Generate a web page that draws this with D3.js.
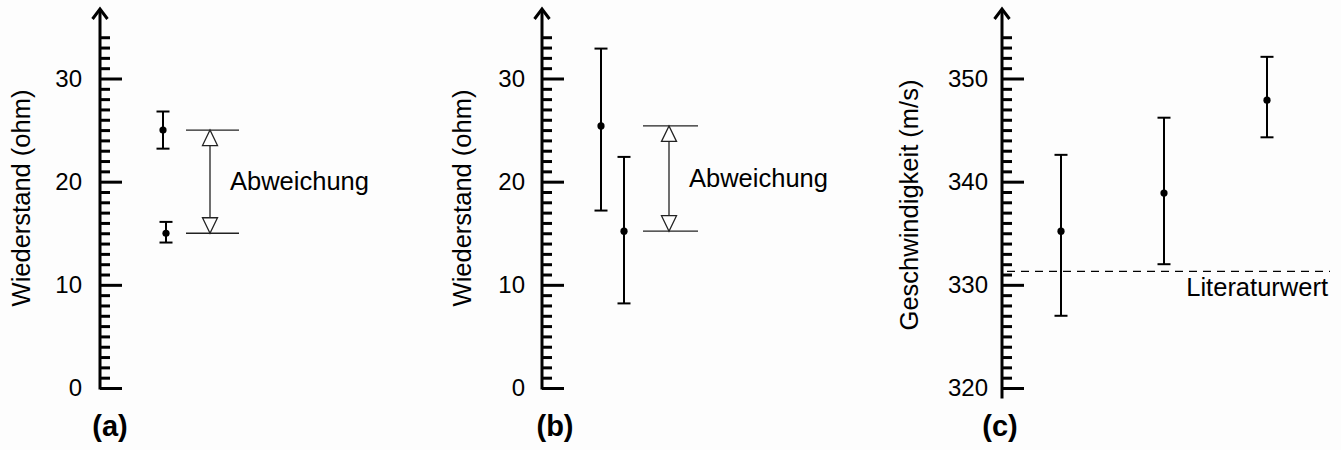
<!DOCTYPE html>
<html>
<head>
<meta charset="utf-8">
<script src="https://cdn.jsdelivr.net/npm/d3@7"></script>
<style>
  html, body { margin: 0; padding: 0; background: #fdfdfd; }
  svg { display: block; }
  text { font-family: "Liberation Sans", Arial, sans-serif; fill: #000; }
</style>
</head>
<body>
<svg id="chart" width="1341" height="450"></svg>
<script>
// ---------- data ----------
const panelLabels = ["(a)", "(b)", "(c)"];
const yTitles = ["Wiederstand (ohm)", "Wiederstand (ohm)", "Geschwindigkeit (m/s)"];
const bracketText = "Abweichung";
const refText = "Literaturwert";

const abTicks = [0, 10, 20, 30];
const cTicks = [320, 330, 340, 350];

const aCategories = ["Messung 1", "Messung 2"];
const aValues = [25.0, 15.0];
const aLower  = [23.2, 14.1];
const aUpper  = [26.8, 16.1];

const bCategories = ["Messung 1", "Messung 2"];
const bValues = [25.4, 15.2];
const bLower  = [17.2, 8.2];
const bUpper  = [32.9, 22.4];

const cCategories = ["Messung 1", "Messung 2", "Messung 3"];
const cValues = [335.2, 338.9, 347.9];
const cLower  = [327.0, 332.0, 344.3];
const cUpper  = [342.6, 346.2, 352.1];
const literaturwert = 331.3;

// ---------- layout ----------
const svg = d3.select("#chart");
const TICK_FONT = 24, TEXT_FONT = 25.5;

const panels = [
  { axisX: 100, domain: [0, 30], minorMax: 34, ticks: abTicks, bottomExt: 0, pad: 18,
    xRange: [163, 166], cats: aCategories, vals: aValues, lo: aLower, hi: aUpper,
    titleX: 30, titleY: 198, labelX: 110, bracket: { x0: 186, x1: 239, xv: 210, tx: 230 } },
  { axisX: 542, domain: [0, 30], minorMax: 34, ticks: abTicks, bottomExt: 0, pad: 17,
    xRange: [601, 624], cats: bCategories, vals: bValues, lo: bLower, hi: bUpper,
    titleX: 471, titleY: 198, labelX: 555, bracket: { x0: 643, x1: 698, xv: 669, tx: 689 } },
  { axisX: 1002, domain: [320, 350], minorMax: 354, ticks: cTicks, bottomExt: 9, pad: 14,
    xRange: [1061, 1267], cats: cCategories, vals: cValues, lo: cLower, hi: cUpper,
    titleX: 918, titleY: 205, labelX: 1000, ref: literaturwert }
];

panels.forEach((p, i) => {
  const g = svg.append("g");
  const y = d3.scaleLinear().domain(p.domain).range([388, 78.5]);
  const x = d3.scalePoint().domain(p.cats).range(p.xRange);

  const minors = d3.range(p.domain[0], p.minorMax + 1).filter(v => !p.ticks.includes(v));

  const gMin = g.append("g").attr("transform", `translate(${p.axisX},0)`)
    .call(d3.axisRight(y).tickValues(minors).tickSize(10).tickFormat(""));
  const gMaj = g.append("g").attr("transform", `translate(${p.axisX},0)`)
    .call(d3.axisRight(y).tickValues(p.ticks).tickSize(22).tickFormat(""));
  [gMin, gMaj].forEach(a => {
    a.select(".domain").remove();
    a.selectAll(".tick line").attr("stroke", "#000").attr("stroke-width", 3);
  });
  const gLab = g.append("g").attr("transform", `translate(${p.axisX},0)`)
    .call(d3.axisLeft(y).tickValues(p.ticks).tickSize(0).tickPadding(p.pad).tickFormat(d3.format("d")));
  gLab.select(".domain").remove();
  gLab.attr("font-size", TICK_FONT).attr("font-family", '"Liberation Sans", Arial, sans-serif');
  gLab.selectAll(".tick text").attr("font-size", TICK_FONT).attr("fill", "#000");

  // axis line with open arrow head
  const yBottom = y(p.domain[0]) + p.bottomExt + 1.5;
  const yTip = 9;
  g.append("line").attr("x1", p.axisX).attr("x2", p.axisX)
    .attr("y1", yBottom).attr("y2", yTip + 1)
    .attr("stroke", "#000").attr("stroke-width", 3);
  g.append("path")
    .attr("d", `M${p.axisX - 7.5},${yTip + 10}L${p.axisX},${yTip}L${p.axisX + 7.5},${yTip + 10}`)
    .attr("fill", "none").attr("stroke", "#000").attr("stroke-width", 3);

  // y title
  g.append("text")
    .attr("transform", `translate(${p.titleX},${p.titleY}) rotate(-90)`)
    .attr("text-anchor", "middle").attr("font-size", TEXT_FONT)
    .text(yTitles[i]);

  // panel label
  g.append("text").attr("x", p.labelX).attr("y", 436)
    .attr("text-anchor", "middle").attr("font-size", 29).attr("font-weight", "bold")
    .text(panelLabels[i]);

  // reference line (panel c)
  if (p.ref !== undefined) {
    g.append("line").attr("x1", p.axisX + 5).attr("x2", 1330)
      .attr("y1", y(p.ref)).attr("y2", y(p.ref))
      .attr("stroke", "#000").attr("stroke-width", 1.3)
      .attr("stroke-dasharray", "8,6");
    g.append("text").attr("x", 1328).attr("y", y(p.ref) + 25)
      .attr("text-anchor", "end").attr("font-size", TEXT_FONT).text(refText);
  }

  // deviation bracket (panels a, b)
  if (p.bracket) {
    const b = p.bracket;
    const yTop = y(p.vals[0]), yBot = y(p.vals[1]);
    const col = "#222";
    [yTop, yBot].forEach(yy => {
      g.append("line").attr("x1", b.x0).attr("x2", b.x1).attr("y1", yy).attr("y2", yy)
        .attr("stroke", col).attr("stroke-width", 1.3);
    });
    g.append("line").attr("x1", b.xv).attr("x2", b.xv).attr("y1", yTop + 15).attr("y2", yBot - 15)
      .attr("stroke", col).attr("stroke-width", 1.3);
    const hw = 7.5, h = 15.5;
    g.append("path").attr("d", `M${b.xv},${yTop}L${b.xv - hw},${yTop + h}L${b.xv + hw},${yTop + h}Z`)
      .attr("fill", "#fff").attr("stroke", col).attr("stroke-width", 1.3);
    g.append("path").attr("d", `M${b.xv},${yBot}L${b.xv - hw},${yBot - h}L${b.xv + hw},${yBot - h}Z`)
      .attr("fill", "#fff").attr("stroke", col).attr("stroke-width", 1.3);
    g.append("text").attr("x", b.tx).attr("y", (yTop + yBot) / 2 + 8)
      .attr("font-size", TEXT_FONT).text(bracketText);
  }

  // error bars
  const data = p.cats.map((c, j) => ({ c, v: p.vals[j], lo: p.lo[j], hi: p.hi[j] }));
  const eb = g.selectAll(".eb").data(data).enter().append("g");
  const cap = 6.5;
  eb.append("line").attr("x1", d => x(d.c)).attr("x2", d => x(d.c))
    .attr("y1", d => y(d.lo)).attr("y2", d => y(d.hi))
    .attr("stroke", "#000").attr("stroke-width", 2);
  eb.append("line").attr("x1", d => x(d.c) - cap).attr("x2", d => x(d.c) + cap)
    .attr("y1", d => y(d.lo)).attr("y2", d => y(d.lo))
    .attr("stroke", "#000").attr("stroke-width", 2);
  eb.append("line").attr("x1", d => x(d.c) - cap).attr("x2", d => x(d.c) + cap)
    .attr("y1", d => y(d.hi)).attr("y2", d => y(d.hi))
    .attr("stroke", "#000").attr("stroke-width", 2);
  eb.append("circle").attr("cx", d => x(d.c)).attr("cy", d => y(d.v)).attr("r", 3.6)
    .attr("fill", "#000");
});
</script>
</body>
</html>
